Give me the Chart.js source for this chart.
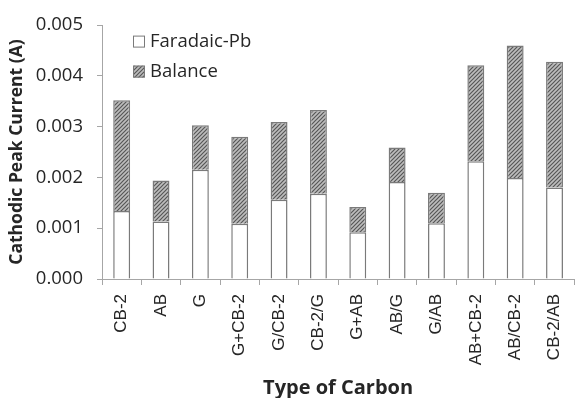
<!DOCTYPE html>
<html>
<head>
<meta charset="utf-8">
<script src="https://cdn.jsdelivr.net/npm/chart.js@4/dist/chart.umd.min.js"></script>
<style>
  html, body { margin: 0; padding: 0; background: #fff; overflow: hidden; }
  #wrap { width: 584px; height: 398px; }
</style>
</head>
<body>
<div id="wrap"><canvas id="c" width="584" height="398"></canvas></div>
<script>
// Carbon types along the x axis
const carbonTypes = ['CB-2', 'AB', 'G', 'G+CB-2', 'G/CB-2', 'CB-2/G', 'G+AB', 'AB/G', 'G/AB', 'AB+CB-2', 'AB/CB-2', 'CB-2/AB'];
// Faradaic Pb share of the cathodic peak current (A)
const faradaicPb = [0.00134, 0.00113, 0.00215, 0.00109, 0.00156, 0.00168, 0.00092, 0.00191, 0.00110, 0.00232, 0.00199, 0.00180];
// Remaining (balance) current stacked on top (A)
const balance = [0.00218, 0.00081, 0.00088, 0.00171, 0.00153, 0.00165, 0.00050, 0.00068, 0.00060, 0.00189, 0.00261, 0.00248];
// y axis tick values
const yTicks = [0, 0.001, 0.002, 0.003, 0.004, 0.005];

const FONT = '"Open Sans", Lato, sans-serif';
const CAT_FONT = '"Liberation Sans", Arial, sans-serif';
const TEXT = '#262626';
const AXIS = '#a6a6a6';
const EDGE = '#7a7a7a';

// diagonal hatch fill for the balance segments
function hatch() {
  const s = 4;
  const t = document.createElement('canvas');
  t.width = s; t.height = s;
  const g = t.getContext('2d');
  g.fillStyle = '#bdbdbd';
  g.fillRect(0, 0, s, s);
  g.strokeStyle = '#575757';
  g.lineWidth = 1.2;
  g.beginPath();
  g.moveTo(0, s); g.lineTo(s, 0);
  g.moveTo(-1, 1); g.lineTo(1, -1);
  g.moveTo(s - 1, s + 1); g.lineTo(s + 1, s - 1);
  g.stroke();
  return document.getElementById('c').getContext('2d').createPattern(t, 'repeat');
}
const hatchFill = hatch();

// legend drawn inside the plot, top-left
const insideLegend = {
  id: 'insideLegend',
  afterDraw(chart) {
    const { ctx, chartArea } = chart;
    const x0 = chartArea.left + 31;
    let y = chartArea.top + 16.5;
    ctx.save();
    chart.data.datasets.forEach((ds) => {
      ctx.fillStyle = ds.backgroundColor;
      ctx.fillRect(x0, y - 6, 12, 12);
      ctx.strokeStyle = EDGE;
      ctx.lineWidth = 1;
      ctx.strokeRect(x0 + 0.5, y - 5.5, 11, 11);
      ctx.fillStyle = TEXT;
      ctx.font = '18.5px ' + FONT;
      ctx.textBaseline = 'middle';
      ctx.textAlign = 'left';
      ctx.fillText(ds.label, x0 + 17, y);
      y += 30;
    });
    ctx.restore();
  }
};

new Chart(document.getElementById('c'), {
  type: 'bar',
  data: {
    labels: carbonTypes,
    datasets: [
      { label: 'Faradaic-Pb', data: faradaicPb, backgroundColor: '#ffffff', borderColor: EDGE, borderWidth: 1.5 },
      { label: 'Balance', data: balance, backgroundColor: hatchFill, borderColor: EDGE, borderWidth: 1.5 }
    ]
  },
  options: {
    responsive: false,
    animation: false,
    datasets: { bar: { categoryPercentage: 1, barPercentage: 0.43 } },
    layout: { padding: { top: 15, right: 2, left: 0, bottom: 0 } },
    plugins: { legend: { display: false }, tooltip: { enabled: false } },
    scales: {
      x: {
        stacked: true,
        grid: { display: true, offset: true, drawOnChartArea: false, color: AXIS, tickLength: 6, tickColor: AXIS },
        border: { color: AXIS, width: 1 },
        ticks: { color: TEXT, font: { family: CAT_FONT, size: 17 }, minRotation: 90, maxRotation: 90, padding: 9, autoSkip: false },
        title: { display: true, text: 'Type of Carbon', color: TEXT, font: { family: FONT, size: 20, weight: 'bold', lineHeight: 1 }, padding: { top: 0, bottom: 0 } },
        afterFit(scale) { scale.height = 119; }
      },
      y: {
        stacked: true,
        min: yTicks[0],
        max: yTicks[yTicks.length - 1],
        afterBuildTicks(scale) { scale.ticks = yTicks.map(v => ({ value: v })); },
        grid: { display: true, drawOnChartArea: false, color: AXIS, tickLength: 5, tickColor: AXIS },
        border: { color: AXIS, width: 1 },
        ticks: { color: TEXT, font: { family: FONT, size: 18.5 }, padding: 14, callback: v => Number(v).toFixed(3) },
        title: { display: true, text: 'Cathodic Peak Current (A)', color: TEXT, font: { family: FONT, size: 17.5, weight: 'bold', lineHeight: 1.2 }, padding: { top: 7, bottom: 0 } },
        afterFit(scale) { scale.width = 102; }
      }
    }
  },
  plugins: [insideLegend]
});
</script>
</body>
</html>
